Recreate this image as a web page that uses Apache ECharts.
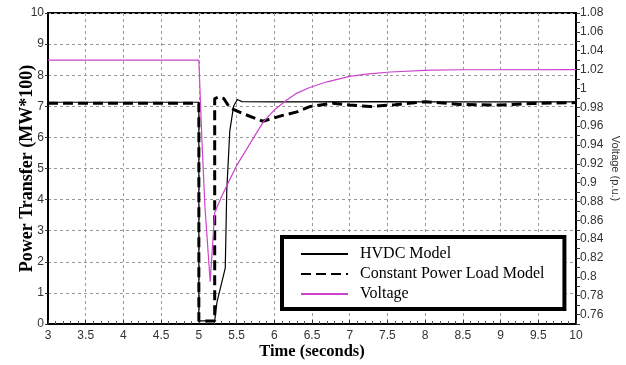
<!DOCTYPE html>
<html>
<head>
<meta charset="utf-8">
<script src="https://cdn.jsdelivr.net/npm/echarts@6/dist/echarts.min.js"></script>
<style>
  html, body { margin: 0; padding: 0; background: #fff; }
  #chart { width: 626px; height: 365px; }
</style>
</head>
<body>
<div id="chart"></div>
<script>
// time axis (seconds) and readings for each curve
var hvdcTime  = [3, 5, 5, 5.21, 5.24, 5.35, 5.37, 5.41, 5.46, 5.51, 5.57, 6, 7.5, 8, 10];
var hvdcPower = [7.13, 7.13, 0.1, 0.1, 0.7, 1.8, 4.3, 6.2, 7.0, 7.22, 7.15, 7.14, 7.15, 7.14, 7.14];

var loadTime  = [3, 5, 5, 5.21, 5.21, 5.26, 5.33, 5.41, 5.6, 5.85, 6.1, 6.3, 6.47, 6.78, 7.0, 7.27, 7.6, 8.0, 8.46, 9.0, 9.43, 10];
var loadPower = [7.1, 7.1, 0.1, 0.1, 7.25, 7.3, 7.25, 6.95, 6.75, 6.52, 6.7, 6.82, 6.99, 7.1, 7.04, 6.99, 7.05, 7.15, 7.06, 7.04, 7.09, 7.12];

var voltTime  = [3, 5, 5.04, 5.08, 5.15, 5.21, 5.3, 5.39, 5.5, 5.63, 5.75, 5.86, 6.0, 6.17, 6.3, 6.47, 6.7, 7.0, 7.25, 7.54, 8.07, 8.5, 10];
var voltValue = [1.03, 1.03, 0.946, 0.875, 0.795, 0.868, 0.885, 0.9, 0.918, 0.935, 0.951, 0.965, 0.977, 0.988, 0.995, 1.001, 1.007, 1.0127, 1.0155, 1.0174, 1.0193, 1.0198, 1.02];

var seriesNames = ['HVDC Model', 'Constant Power Load Model', 'Voltage'];

function pairs(xs, ys) {
  var out = [];
  for (var i = 0; i < xs.length; i++) out.push([xs[i], ys[i]]);
  return out;
}

var serif = 'Liberation Serif';
var sans = 'Liberation Sans';

var chart = echarts.init(document.getElementById('chart'));
var option = {
  backgroundColor: '#fff',
  animation: false,
  grid: {
    left: 48, right: 50, top: 13, bottom: 41,
    outerBoundsMode: 'none',
    show: true,
    borderColor: '#000',
    borderWidth: 2
  },
  legend: {
    data: seriesNames,
    orient: 'vertical',
    left: 282,
    top: 237,
    padding: [9, 20, 7, 18],
    itemWidth: 47,
    itemHeight: 14,
    itemGap: 4,
    backgroundColor: '#fff',
    borderColor: '#000',
    borderWidth: 4,
    itemStyle: { opacity: 0 },
    textStyle: {
      fontFamily: serif,
      fontSize: 16,
      color: '#000',
      padding: [0, 0, 0, 7]
    }
  },
  xAxis: {
    type: 'value',
    min: 3,
    max: 10,
    interval: 0.5,
    name: 'Time (seconds)',
    nameLocation: 'middle',
    nameGap: 19,
    nameMoveOverlap: false,
    nameTextStyle: { fontFamily: serif, fontSize: 16.5, fontWeight: 'bold', color: '#000' },
    axisLine: { lineStyle: { color: '#000', width: 2 } },
    axisTick: { inside: true, length: 4, lineStyle: { color: '#333' } },
    minorTick: { show: true, splitNumber: 5, length: 3, lineStyle: { color: '#555' } },
    axisLabel: { fontFamily: sans, fontSize: 12, color: '#333', margin: 6 },
    splitLine: { show: true, lineStyle: { color: '#999', type: [3, 3] } }
  },
  yAxis: [{
    type: 'value',
    min: 0,
    max: 10,
    interval: 1,
    name: 'Power Transfer (MW*100)',
    nameLocation: 'middle',
    nameGap: 12,
    nameMoveOverlap: false,
    nameTextStyle: { fontFamily: serif, fontSize: 18, fontWeight: 'bold', color: '#000' },
    axisLine: { show: true, lineStyle: { color: '#000', width: 2 } },
    axisTick: { show: true, length: 3, lineStyle: { color: '#333' } },
    axisLabel: { fontFamily: sans, fontSize: 12, color: '#333', margin: 4 },
    splitLine: { show: true, lineStyle: { color: '#999', type: [3, 3] } }
  }, {
    type: 'value',
    position: 'right',
    min: 0.75,
    max: 1.08,
    interval: 0.01,
    name: 'Voltage (p.u.)',
    nameLocation: 'middle',
    nameRotate: -90,
    nameGap: 34,
    nameMoveOverlap: false,
    nameTextStyle: { fontFamily: sans, fontSize: 11, color: '#333' },
    axisLine: { show: true, lineStyle: { color: '#000', width: 2 } },
    axisTick: { show: true, length: 4, lineStyle: { color: '#333' } },
    axisLabel: {
      fontFamily: sans, fontSize: 12, color: '#333', margin: 4,
      formatter: function (v) {
        var r = Math.round(v * 100);
        if (r % 2 !== 0) return '';
        return String(r / 100);
      }
    },
    splitLine: { show: false }
  }],
  series: [{
    name: seriesNames[0],
    type: 'line',
    symbol: 'none',
    data: pairs(hvdcTime, hvdcPower),
    lineStyle: { color: '#000', width: 1.2 },
    itemStyle: { color: '#000' }
  }, {
    name: seriesNames[1],
    type: 'line',
    symbol: 'none',
    data: pairs(loadTime, loadPower),
    lineStyle: { color: '#000', width: 3, type: [10, 5] },
    itemStyle: { color: '#000' }
  }, {
    name: seriesNames[2],
    type: 'line',
    symbol: 'none',
    yAxisIndex: 1,
    data: pairs(voltTime, voltValue),
    lineStyle: { color: '#cc44cc', width: 1.2 },
    itemStyle: { color: '#cc44cc' }
  }]
};
chart.setOption(option);
</script>
</body>
</html>
